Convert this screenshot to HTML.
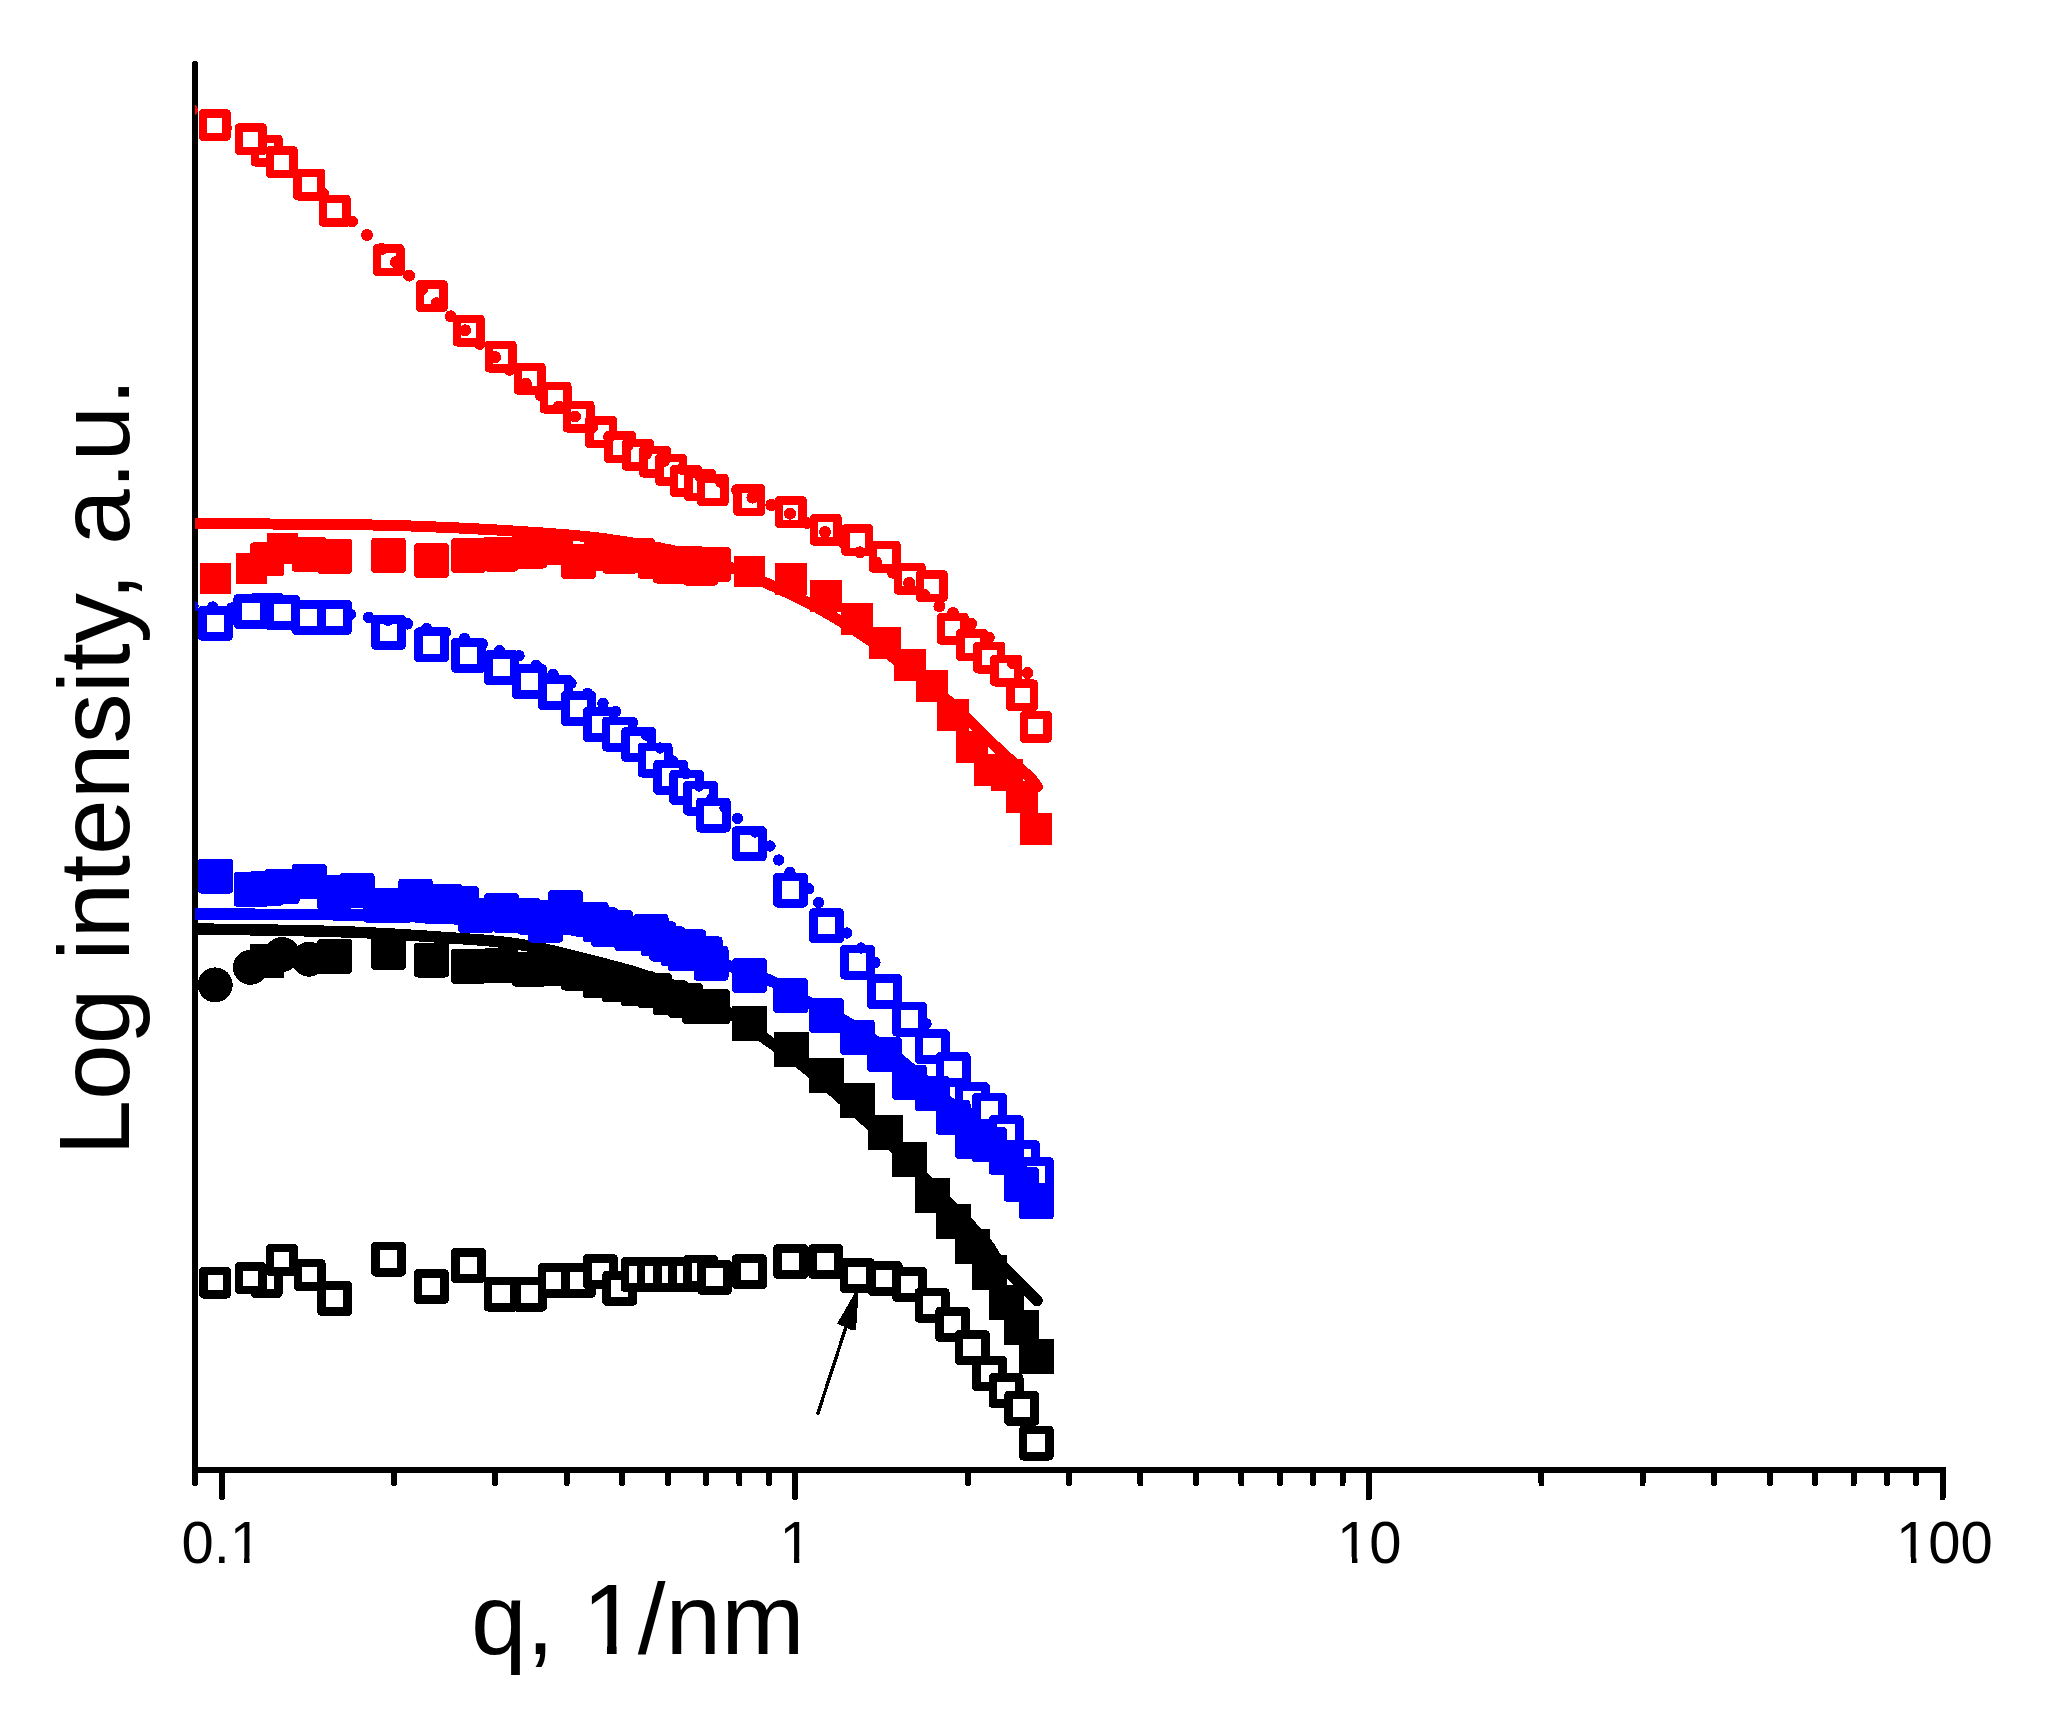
<!DOCTYPE html>
<html><head><meta charset="utf-8"><title>SAXS plot</title>
<style>html,body{margin:0;padding:0;background:#fff}body{width:2046px;height:1713px;overflow:hidden}</style></head>
<body>
<svg width="2046" height="1713" viewBox="0 0 2046 1713" style="display:block">
<rect width="2046" height="1713" fill="#fff"/>
<defs><clipPath id="cp"><rect x="195" y="50" width="1800" height="1420"/></clipPath></defs>
<g shape-rendering="crispEdges">
<line x1="195" y1="64" x2="195" y2="1483.2" stroke="#000000" stroke-width="6" stroke-linecap="round"/>
<line x1="192" y1="1470" x2="1945.5" y2="1470" stroke="#000000" stroke-width="6"/>
<line x1="222.00" y1="1470" x2="222.00" y2="1497.5" stroke="#000000" stroke-width="6" stroke-linecap="round"/>
<line x1="795.00" y1="1470" x2="795.00" y2="1497.5" stroke="#000000" stroke-width="6" stroke-linecap="round"/>
<line x1="1368.75" y1="1470" x2="1368.75" y2="1497.5" stroke="#000000" stroke-width="6" stroke-linecap="round"/>
<line x1="1942.50" y1="1470" x2="1942.50" y2="1497.5" stroke="#000000" stroke-width="6" stroke-linecap="round"/>
<line x1="393.97" y1="1470" x2="393.97" y2="1483.2" stroke="#000000" stroke-width="6" stroke-linecap="round"/>
<line x1="495.00" y1="1470" x2="495.00" y2="1483.2" stroke="#000000" stroke-width="6" stroke-linecap="round"/>
<line x1="566.68" y1="1470" x2="566.68" y2="1483.2" stroke="#000000" stroke-width="6" stroke-linecap="round"/>
<line x1="622.28" y1="1470" x2="622.28" y2="1483.2" stroke="#000000" stroke-width="6" stroke-linecap="round"/>
<line x1="667.71" y1="1470" x2="667.71" y2="1483.2" stroke="#000000" stroke-width="6" stroke-linecap="round"/>
<line x1="706.13" y1="1470" x2="706.13" y2="1483.2" stroke="#000000" stroke-width="6" stroke-linecap="round"/>
<line x1="739.40" y1="1470" x2="739.40" y2="1483.2" stroke="#000000" stroke-width="6" stroke-linecap="round"/>
<line x1="768.75" y1="1470" x2="768.75" y2="1483.2" stroke="#000000" stroke-width="6" stroke-linecap="round"/>
<line x1="967.72" y1="1470" x2="967.72" y2="1483.2" stroke="#000000" stroke-width="6" stroke-linecap="round"/>
<line x1="1068.75" y1="1470" x2="1068.75" y2="1483.2" stroke="#000000" stroke-width="6" stroke-linecap="round"/>
<line x1="1140.43" y1="1470" x2="1140.43" y2="1483.2" stroke="#000000" stroke-width="6" stroke-linecap="round"/>
<line x1="1196.03" y1="1470" x2="1196.03" y2="1483.2" stroke="#000000" stroke-width="6" stroke-linecap="round"/>
<line x1="1241.46" y1="1470" x2="1241.46" y2="1483.2" stroke="#000000" stroke-width="6" stroke-linecap="round"/>
<line x1="1279.88" y1="1470" x2="1279.88" y2="1483.2" stroke="#000000" stroke-width="6" stroke-linecap="round"/>
<line x1="1313.15" y1="1470" x2="1313.15" y2="1483.2" stroke="#000000" stroke-width="6" stroke-linecap="round"/>
<line x1="1342.50" y1="1470" x2="1342.50" y2="1483.2" stroke="#000000" stroke-width="6" stroke-linecap="round"/>
<line x1="1541.47" y1="1470" x2="1541.47" y2="1483.2" stroke="#000000" stroke-width="6" stroke-linecap="round"/>
<line x1="1642.50" y1="1470" x2="1642.50" y2="1483.2" stroke="#000000" stroke-width="6" stroke-linecap="round"/>
<line x1="1714.18" y1="1470" x2="1714.18" y2="1483.2" stroke="#000000" stroke-width="6" stroke-linecap="round"/>
<line x1="1769.78" y1="1470" x2="1769.78" y2="1483.2" stroke="#000000" stroke-width="6" stroke-linecap="round"/>
<line x1="1815.21" y1="1470" x2="1815.21" y2="1483.2" stroke="#000000" stroke-width="6" stroke-linecap="round"/>
<line x1="1853.63" y1="1470" x2="1853.63" y2="1483.2" stroke="#000000" stroke-width="6" stroke-linecap="round"/>
<line x1="1886.90" y1="1470" x2="1886.90" y2="1483.2" stroke="#000000" stroke-width="6" stroke-linecap="round"/>
<line x1="1916.25" y1="1470" x2="1916.25" y2="1483.2" stroke="#000000" stroke-width="6" stroke-linecap="round"/>
<g clip-path="url(#cp)">
<rect x="254.85" y="1270.15" width="23.50" height="23.50" fill="#fff" stroke="#000000" stroke-width="8.50" stroke-linejoin="round"/>
<rect x="375.38" y="1245.97" width="26.25" height="26.25" fill="#fff" stroke="#000000" stroke-width="8.75" stroke-linejoin="round"/>
<rect x="418.12" y="1273.38" width="26.25" height="26.25" fill="#fff" stroke="#000000" stroke-width="8.75" stroke-linejoin="round"/>
<rect x="455.27" y="1252.28" width="26.25" height="26.25" fill="#fff" stroke="#000000" stroke-width="8.75" stroke-linejoin="round"/>
<rect x="488.12" y="1280.97" width="26.25" height="26.25" fill="#fff" stroke="#000000" stroke-width="8.75" stroke-linejoin="round"/>
<rect x="516.38" y="1280.97" width="26.25" height="26.25" fill="#fff" stroke="#000000" stroke-width="8.75" stroke-linejoin="round"/>
<rect x="542.12" y="1267.28" width="26.25" height="26.25" fill="#fff" stroke="#000000" stroke-width="8.75" stroke-linejoin="round"/>
<rect x="565.38" y="1267.28" width="26.25" height="26.25" fill="#fff" stroke="#000000" stroke-width="8.75" stroke-linejoin="round"/>
<rect x="587.27" y="1258.38" width="26.25" height="26.25" fill="#fff" stroke="#000000" stroke-width="8.75" stroke-linejoin="round"/>
<rect x="606.62" y="1275.17" width="26.25" height="26.25" fill="#fff" stroke="#000000" stroke-width="8.75" stroke-linejoin="round"/>
<rect x="624.88" y="1261.62" width="26.25" height="26.25" fill="#fff" stroke="#000000" stroke-width="8.75" stroke-linejoin="round"/>
<rect x="641.12" y="1261.62" width="26.25" height="26.25" fill="#fff" stroke="#000000" stroke-width="8.75" stroke-linejoin="round"/>
<rect x="657.38" y="1261.62" width="26.25" height="26.25" fill="#fff" stroke="#000000" stroke-width="8.75" stroke-linejoin="round"/>
<rect x="672.38" y="1261.38" width="26.25" height="26.25" fill="#fff" stroke="#000000" stroke-width="8.75" stroke-linejoin="round"/>
<rect x="687.38" y="1259.12" width="26.25" height="26.25" fill="#fff" stroke="#000000" stroke-width="8.75" stroke-linejoin="round"/>
<rect x="701.27" y="1264.12" width="26.25" height="26.25" fill="#fff" stroke="#000000" stroke-width="8.75" stroke-linejoin="round"/>
<rect x="736.27" y="1258.62" width="26.25" height="26.25" fill="#fff" stroke="#000000" stroke-width="8.75" stroke-linejoin="round"/>
<rect x="777.48" y="1248.38" width="26.25" height="26.25" fill="#fff" stroke="#000000" stroke-width="8.75" stroke-linejoin="round"/>
<rect x="812.48" y="1248.38" width="26.25" height="26.25" fill="#fff" stroke="#000000" stroke-width="8.75" stroke-linejoin="round"/>
<rect x="843.98" y="1262.28" width="26.25" height="26.25" fill="#fff" stroke="#000000" stroke-width="8.75" stroke-linejoin="round"/>
<rect x="871.88" y="1265.38" width="26.25" height="26.25" fill="#fff" stroke="#000000" stroke-width="8.75" stroke-linejoin="round"/>
<rect x="896.48" y="1271.28" width="26.25" height="26.25" fill="#fff" stroke="#000000" stroke-width="8.75" stroke-linejoin="round"/>
<rect x="918.88" y="1292.12" width="26.25" height="26.25" fill="#fff" stroke="#000000" stroke-width="8.75" stroke-linejoin="round"/>
<rect x="939.62" y="1311.28" width="26.25" height="26.25" fill="#fff" stroke="#000000" stroke-width="8.75" stroke-linejoin="round"/>
<rect x="959.12" y="1334.38" width="26.25" height="26.25" fill="#fff" stroke="#000000" stroke-width="8.75" stroke-linejoin="round"/>
<rect x="976.38" y="1360.38" width="26.25" height="26.25" fill="#fff" stroke="#000000" stroke-width="8.75" stroke-linejoin="round"/>
<rect x="992.88" y="1377.62" width="26.25" height="26.25" fill="#fff" stroke="#000000" stroke-width="8.75" stroke-linejoin="round"/>
<rect x="1008.62" y="1395.12" width="26.25" height="26.25" fill="#fff" stroke="#000000" stroke-width="8.75" stroke-linejoin="round"/>
<rect x="1023.12" y="1429.88" width="26.25" height="26.25" fill="#fff" stroke="#000000" stroke-width="8.75" stroke-linejoin="round"/>
<rect x="203.35" y="1270.85" width="23.50" height="23.50" fill="#fff" stroke="#000000" stroke-width="8.50" stroke-linejoin="round"/>
<rect x="238.85" y="1266.35" width="23.50" height="23.50" fill="#fff" stroke="#000000" stroke-width="8.50" stroke-linejoin="round"/>
<rect x="270.15" y="1248.15" width="23.50" height="23.50" fill="#fff" stroke="#000000" stroke-width="8.50" stroke-linejoin="round"/>
<rect x="297.85" y="1263.15" width="23.50" height="23.50" fill="#fff" stroke="#000000" stroke-width="8.50" stroke-linejoin="round"/>
<rect x="321.62" y="1285.28" width="26.25" height="26.25" fill="#fff" stroke="#000000" stroke-width="8.75" stroke-linejoin="round"/>
<polyline points="195.0,929.0 202.0,929.1 210.9,929.2 221.4,929.4 233.3,929.6 246.1,929.7 259.6,929.9 273.4,930.2 287.3,930.4 300.9,930.7 313.9,931.0 326.1,931.3 337.0,931.6 347.0,932.0 356.7,932.3 366.0,932.7 375.0,933.2 383.7,933.6 392.2,934.1 400.5,934.6 408.6,935.1 416.6,935.6 424.4,936.1 432.2,936.6 440.0,937.2 447.6,937.7 455.0,938.2 462.2,938.7 469.1,939.2 476.0,939.7 482.8,940.2 489.4,940.8 496.1,941.5 502.7,942.2 509.4,943.0 516.1,943.9 523.0,945.0 530.0,946.2 537.3,947.6 544.7,949.2 552.2,950.8 559.7,952.6 567.1,954.4 574.3,956.2 581.4,958.0 588.1,959.7 594.5,961.4 600.5,962.9 606.0,964.3 610.9,965.6 615.4,966.7 619.4,967.8 623.0,968.8 626.4,969.7 629.6,970.6 632.6,971.5 635.5,972.4 638.5,973.3 641.5,974.3 644.6,975.4 648.0,976.5 651.5,977.7 655.0,978.9 658.6,980.1 662.1,981.4 665.7,982.7 669.2,984.0 672.7,985.3 676.2,986.7 679.7,988.1 683.2,989.5 686.6,991.0 690.0,992.5 693.4,994.0 696.7,995.6 700.1,997.2 703.4,998.9 706.8,1000.6 710.1,1002.3 713.3,1004.0 716.6,1005.8 719.7,1007.6 722.9,1009.4 726.0,1011.2 729.0,1013.0 731.9,1014.8 734.7,1016.6 737.3,1018.4 739.8,1020.1 742.3,1021.9 744.8,1023.8 747.3,1025.6 750.0,1027.6 752.7,1029.6 755.6,1031.8 758.7,1034.1 762.0,1036.5 765.5,1039.0 769.2,1041.6 773.1,1044.3 777.1,1047.1 781.1,1050.0 785.3,1052.9 789.6,1056.0 794.0,1059.1 798.4,1062.4 802.9,1065.8 807.4,1069.3 812.0,1073.0 816.7,1076.8 821.5,1080.9 826.4,1085.2 831.5,1089.6 836.6,1094.1 841.7,1098.7 846.9,1103.3 852.0,1107.9 857.0,1112.6 862.0,1117.1 866.8,1121.6 871.5,1126.0 876.0,1130.3 880.5,1134.6 884.9,1138.8 889.2,1143.1 893.5,1147.3 897.7,1151.5 901.9,1155.7 906.0,1159.8 910.0,1163.9 914.1,1168.0 918.0,1172.0 922.0,1176.0 926.0,1180.0 930.0,1184.1 934.0,1188.2 938.0,1192.2 942.0,1196.3 945.9,1200.3 949.7,1204.2 953.4,1207.9 956.8,1211.5 960.1,1214.9 963.2,1218.1 966.0,1221.0 968.5,1223.6 970.8,1225.9 972.8,1228.0 974.6,1229.9 976.3,1231.6 977.8,1233.2 979.2,1234.7 980.6,1236.2 981.9,1237.7 983.2,1239.2 984.6,1240.8 986.0,1242.5 987.4,1244.2 988.5,1245.9 989.6,1247.5 990.6,1249.1 991.5,1250.7 992.5,1252.3 993.5,1254.0 994.6,1255.7 995.9,1257.6 997.3,1259.5 999.0,1261.7 1001.0,1264.0 1003.4,1266.6 1006.2,1269.6 1009.4,1272.9 1012.8,1276.4 1016.3,1280.0 1019.9,1283.6 1023.5,1287.1 1026.9,1290.5 1030.0,1293.6 1032.8,1296.4 1035.2,1298.7 1037.0,1300.5" fill="none" stroke="#000000" stroke-width="11.5" stroke-linejoin="round" stroke-linecap="round"/>
<circle cx="215.20" cy="984.90" r="17.50" fill="#000000"/>
<circle cx="250.40" cy="967.30" r="17.50" fill="#000000"/>
<rect x="250.00" y="943.50" width="34" height="34" rx="0" fill="#000000"/>
<circle cx="282.10" cy="954.40" r="17.50" fill="#000000"/>
<circle cx="309.20" cy="959.20" r="17.50" fill="#000000"/>
<rect x="317.10" y="938.80" width="35" height="35" rx="4" fill="#000000"/>
<rect x="371.00" y="935.00" width="35" height="35" rx="4" fill="#000000"/>
<rect x="414.00" y="942.50" width="35" height="35" rx="4" fill="#000000"/>
<rect x="450.90" y="948.80" width="35" height="35" rx="4" fill="#000000"/>
<rect x="483.25" y="948.00" width="35" height="35" rx="4" fill="#000000"/>
<rect x="512.00" y="951.60" width="35" height="35" rx="4" fill="#000000"/>
<rect x="538.00" y="950.50" width="35" height="35" rx="4" fill="#000000"/>
<rect x="561.00" y="955.50" width="35" height="35" rx="4" fill="#000000"/>
<rect x="583.00" y="963.40" width="35" height="35" rx="4" fill="#000000"/>
<rect x="601.75" y="967.10" width="35" height="35" rx="4" fill="#000000"/>
<rect x="620.50" y="971.25" width="35" height="35" rx="4" fill="#000000"/>
<rect x="636.75" y="972.90" width="35" height="35" rx="4" fill="#000000"/>
<rect x="653.00" y="980.40" width="35" height="35" rx="4" fill="#000000"/>
<rect x="668.00" y="982.90" width="35" height="35" rx="4" fill="#000000"/>
<rect x="682.25" y="989.20" width="35" height="35" rx="4" fill="#000000"/>
<rect x="695.25" y="989.30" width="35" height="35" rx="4" fill="#000000"/>
<rect x="732.10" y="1005.80" width="35" height="35" rx="0" fill="#000000"/>
<rect x="774.00" y="1031.50" width="35" height="35" rx="0" fill="#000000"/>
<rect x="809.25" y="1057.75" width="35" height="35" rx="0" fill="#000000"/>
<rect x="840.00" y="1082.50" width="35" height="35" rx="0" fill="#000000"/>
<rect x="867.75" y="1114.75" width="35" height="35" rx="0" fill="#000000"/>
<rect x="892.00" y="1141.70" width="35" height="35" rx="0" fill="#000000"/>
<rect x="914.60" y="1177.60" width="35" height="35" rx="0" fill="#000000"/>
<rect x="935.70" y="1203.90" width="35" height="35" rx="0" fill="#000000"/>
<rect x="954.75" y="1229.00" width="35" height="35" rx="0" fill="#000000"/>
<rect x="972.00" y="1254.60" width="35" height="35" rx="0" fill="#000000"/>
<rect x="988.50" y="1284.75" width="35" height="35" rx="0" fill="#000000"/>
<rect x="1004.25" y="1309.60" width="35" height="35" rx="0" fill="#000000"/>
<rect x="1018.75" y="1338.50" width="35" height="35" rx="0" fill="#000000"/>
<line x1="818" y1="1413" x2="847" y2="1324" stroke="#000000" stroke-width="3.4" stroke-linecap="round"/>
<polygon points="855,1292.5 858.3,1292.5 857.6,1307 856,1330 850,1329.5 837.2,1323.5" fill="#000000"/>
<rect x="253.88" y="597.27" width="26.25" height="26.25" fill="#fff" stroke="#0000ff" stroke-width="8.75" stroke-linejoin="round"/>
<rect x="375.38" y="619.27" width="26.25" height="26.25" fill="#fff" stroke="#0000ff" stroke-width="8.75" stroke-linejoin="round"/>
<rect x="418.38" y="631.77" width="26.25" height="26.25" fill="#fff" stroke="#0000ff" stroke-width="8.75" stroke-linejoin="round"/>
<rect x="455.57" y="642.17" width="26.25" height="26.25" fill="#fff" stroke="#0000ff" stroke-width="8.75" stroke-linejoin="round"/>
<rect x="488.38" y="654.62" width="26.25" height="26.25" fill="#fff" stroke="#0000ff" stroke-width="8.75" stroke-linejoin="round"/>
<rect x="516.38" y="668.62" width="26.25" height="26.25" fill="#fff" stroke="#0000ff" stroke-width="8.75" stroke-linejoin="round"/>
<rect x="542.38" y="679.38" width="26.25" height="26.25" fill="#fff" stroke="#0000ff" stroke-width="8.75" stroke-linejoin="round"/>
<rect x="565.38" y="695.38" width="26.25" height="26.25" fill="#fff" stroke="#0000ff" stroke-width="8.75" stroke-linejoin="round"/>
<rect x="587.38" y="711.38" width="26.25" height="26.25" fill="#fff" stroke="#0000ff" stroke-width="8.75" stroke-linejoin="round"/>
<rect x="606.12" y="720.88" width="26.25" height="26.25" fill="#fff" stroke="#0000ff" stroke-width="8.75" stroke-linejoin="round"/>
<rect x="625.62" y="731.38" width="26.25" height="26.25" fill="#fff" stroke="#0000ff" stroke-width="8.75" stroke-linejoin="round"/>
<rect x="641.88" y="746.88" width="26.25" height="26.25" fill="#fff" stroke="#0000ff" stroke-width="8.75" stroke-linejoin="round"/>
<rect x="657.62" y="764.12" width="26.25" height="26.25" fill="#fff" stroke="#0000ff" stroke-width="8.75" stroke-linejoin="round"/>
<rect x="673.62" y="774.12" width="26.25" height="26.25" fill="#fff" stroke="#0000ff" stroke-width="8.75" stroke-linejoin="round"/>
<rect x="687.38" y="784.88" width="26.25" height="26.25" fill="#fff" stroke="#0000ff" stroke-width="8.75" stroke-linejoin="round"/>
<rect x="700.12" y="801.88" width="26.25" height="26.25" fill="#fff" stroke="#0000ff" stroke-width="8.75" stroke-linejoin="round"/>
<rect x="736.12" y="830.62" width="26.25" height="26.25" fill="#fff" stroke="#0000ff" stroke-width="8.75" stroke-linejoin="round"/>
<rect x="777.48" y="876.88" width="26.25" height="26.25" fill="#fff" stroke="#0000ff" stroke-width="8.75" stroke-linejoin="round"/>
<rect x="813.38" y="912.58" width="26.25" height="26.25" fill="#fff" stroke="#0000ff" stroke-width="8.75" stroke-linejoin="round"/>
<rect x="844.27" y="948.98" width="26.25" height="26.25" fill="#fff" stroke="#0000ff" stroke-width="8.75" stroke-linejoin="round"/>
<rect x="871.48" y="978.48" width="26.25" height="26.25" fill="#fff" stroke="#0000ff" stroke-width="8.75" stroke-linejoin="round"/>
<rect x="896.27" y="1005.98" width="26.25" height="26.25" fill="#fff" stroke="#0000ff" stroke-width="8.75" stroke-linejoin="round"/>
<rect x="919.12" y="1033.62" width="26.25" height="26.25" fill="#fff" stroke="#0000ff" stroke-width="8.75" stroke-linejoin="round"/>
<rect x="939.88" y="1056.38" width="26.25" height="26.25" fill="#fff" stroke="#0000ff" stroke-width="8.75" stroke-linejoin="round"/>
<rect x="959.12" y="1086.62" width="26.25" height="26.25" fill="#fff" stroke="#0000ff" stroke-width="8.75" stroke-linejoin="round"/>
<rect x="976.27" y="1097.12" width="26.25" height="26.25" fill="#fff" stroke="#0000ff" stroke-width="8.75" stroke-linejoin="round"/>
<rect x="993.12" y="1119.38" width="26.25" height="26.25" fill="#fff" stroke="#0000ff" stroke-width="8.75" stroke-linejoin="round"/>
<rect x="1009.12" y="1144.38" width="26.25" height="26.25" fill="#fff" stroke="#0000ff" stroke-width="8.75" stroke-linejoin="round"/>
<rect x="1023.12" y="1161.38" width="26.25" height="26.25" fill="#fff" stroke="#0000ff" stroke-width="8.75" stroke-linejoin="round"/>
<circle cx="193" cy="606.3" r="5.7" fill="#0000ff"/>
<circle cx="212.7" cy="607" r="5.7" fill="#0000ff"/>
<circle cx="231.8" cy="608" r="5.7" fill="#0000ff"/>
<circle cx="350.5" cy="614.4" r="5.7" fill="#0000ff"/>
<circle cx="368.6" cy="617.3" r="5.7" fill="#0000ff"/>
<circle cx="388" cy="620.3" r="5.7" fill="#0000ff"/>
<circle cx="407.5" cy="623.8" r="5.7" fill="#0000ff"/>
<circle cx="426.7" cy="628.6" r="5.7" fill="#0000ff"/>
<circle cx="445.4" cy="632.3" r="5.7" fill="#0000ff"/>
<circle cx="464.4" cy="638.4" r="5.7" fill="#0000ff"/>
<circle cx="482.3" cy="644" r="5.7" fill="#0000ff"/>
<circle cx="499.6" cy="650.7" r="5.7" fill="#0000ff"/>
<circle cx="519" cy="655.7" r="5.7" fill="#0000ff"/>
<circle cx="536.25" cy="665.2" r="5.7" fill="#0000ff"/>
<circle cx="553" cy="674.4" r="5.7" fill="#0000ff"/>
<circle cx="571" cy="683.4" r="5.7" fill="#0000ff"/>
<circle cx="587.5" cy="693.4" r="5.7" fill="#0000ff"/>
<circle cx="603" cy="703.4" r="5.7" fill="#0000ff"/>
<circle cx="615.6" cy="711.4" r="5.7" fill="#0000ff"/>
<circle cx="632.5" cy="722.5" r="5.7" fill="#0000ff"/>
<circle cx="646" cy="735" r="5.7" fill="#0000ff"/>
<circle cx="660" cy="748" r="5.7" fill="#0000ff"/>
<circle cx="673" cy="761" r="5.7" fill="#0000ff"/>
<circle cx="686" cy="773.5" r="5.7" fill="#0000ff"/>
<circle cx="699" cy="786" r="5.7" fill="#0000ff"/>
<circle cx="712" cy="798" r="5.7" fill="#0000ff"/>
<circle cx="725" cy="808" r="5.7" fill="#0000ff"/>
<circle cx="737.5" cy="818.25" r="5.7" fill="#0000ff"/>
<circle cx="755" cy="832" r="5.7" fill="#0000ff"/>
<circle cx="770" cy="846" r="5.7" fill="#0000ff"/>
<circle cx="778.75" cy="860" r="5.7" fill="#0000ff"/>
<circle cx="790" cy="872.5" r="5.7" fill="#0000ff"/>
<circle cx="808.75" cy="888.75" r="5.7" fill="#0000ff"/>
<circle cx="818.75" cy="902.5" r="5.7" fill="#0000ff"/>
<circle cx="846.8" cy="933" r="5.7" fill="#0000ff"/>
<circle cx="861" cy="948" r="5.7" fill="#0000ff"/>
<circle cx="875" cy="962.5" r="5.7" fill="#0000ff"/>
<circle cx="926" cy="1023.75" r="5.7" fill="#0000ff"/>
<rect x="202.28" y="610.17" width="26.25" height="26.25" fill="#fff" stroke="#0000ff" stroke-width="8.75" stroke-linejoin="round"/>
<rect x="237.78" y="598.27" width="26.25" height="26.25" fill="#fff" stroke="#0000ff" stroke-width="8.75" stroke-linejoin="round"/>
<rect x="269.38" y="599.38" width="26.25" height="26.25" fill="#fff" stroke="#0000ff" stroke-width="8.75" stroke-linejoin="round"/>
<rect x="295.77" y="604.17" width="26.25" height="26.25" fill="#fff" stroke="#0000ff" stroke-width="8.75" stroke-linejoin="round"/>
<rect x="321.38" y="604.17" width="26.25" height="26.25" fill="#fff" stroke="#0000ff" stroke-width="8.75" stroke-linejoin="round"/>
<polyline points="195.0,914.0 202.0,914.0 211.1,914.1 221.9,914.1 234.0,914.2 247.1,914.2 260.8,914.3 274.8,914.3 288.8,914.4 302.3,914.5 315.1,914.6 326.8,914.7 337.0,914.8 346.0,914.9 354.3,915.1 362.0,915.2 369.1,915.3 375.9,915.5 382.4,915.6 388.6,915.8 394.7,916.0 400.8,916.2 407.0,916.5 413.4,916.7 420.0,917.0 426.8,917.3 433.5,917.6 440.2,918.0 446.9,918.3 453.5,918.7 460.2,919.1 466.8,919.5 473.4,919.9 480.1,920.4 486.7,920.9 493.3,921.4 500.0,922.0 506.7,922.6 513.4,923.2 520.2,923.9 527.0,924.6 533.8,925.3 540.6,926.0 547.4,926.8 554.1,927.6 560.7,928.4 567.2,929.2 573.7,930.1 580.0,931.0 586.2,931.9 592.4,932.9 598.4,933.9 604.4,934.9 610.4,936.0 616.2,937.1 622.0,938.2 627.8,939.3 633.4,940.4 639.0,941.6 644.5,942.8 650.0,944.0 655.4,945.2 660.6,946.4 665.7,947.7 670.8,949.0 675.8,950.3 680.7,951.6 685.6,952.9 690.4,954.3 695.3,955.6 700.2,957.1 705.1,958.5 710.0,960.0 715.0,961.5 720.1,963.1 725.2,964.6 730.4,966.3 735.6,967.9 740.7,969.6 745.7,971.3 750.7,973.0 755.5,974.7 760.2,976.4 764.7,978.2 769.0,980.0 773.1,981.8 776.9,983.7 780.5,985.6 784.0,987.5 787.4,989.5 790.7,991.4 793.9,993.4 797.1,995.4 800.2,997.3 803.4,999.2 806.7,1001.1 810.0,1003.0 813.4,1004.8 816.7,1006.5 820.1,1008.2 823.4,1009.9 826.7,1011.5 830.1,1013.2 833.4,1014.9 836.7,1016.6 840.0,1018.3 843.3,1020.1 846.7,1022.0 850.0,1024.0 853.3,1026.1 856.7,1028.2 860.0,1030.4 863.3,1032.6 866.7,1034.9 870.0,1037.2 873.3,1039.6 876.7,1042.0 880.0,1044.5 883.3,1047.0 886.7,1049.5 890.0,1052.0 893.3,1054.6 896.7,1057.2 900.0,1059.8 903.3,1062.5 906.7,1065.2 910.0,1067.9 913.3,1070.7 916.7,1073.5 920.0,1076.4 923.3,1079.2 926.7,1082.1 930.0,1085.0 933.3,1087.9 936.7,1090.9 940.1,1094.0 943.5,1097.1 946.9,1100.2 950.3,1103.3 953.7,1106.5 957.0,1109.6 960.4,1112.7 963.6,1115.8 966.8,1118.9 970.0,1122.0 973.1,1125.0 976.2,1128.0 979.2,1131.0 982.1,1134.0 985.1,1137.0 988.0,1140.0 990.9,1143.0 993.7,1146.0 996.6,1149.0 999.4,1152.0 1002.2,1155.0 1005.0,1158.0 1007.9,1161.2 1010.9,1164.5 1014.0,1168.0 1017.1,1171.6 1020.2,1175.2 1023.2,1178.8 1026.1,1182.2 1028.8,1185.4 1031.3,1188.3 1033.6,1191.0 1035.5,1193.2 1037.0,1195.0" fill="none" stroke="#0000ff" stroke-width="11.5" stroke-linejoin="round" stroke-linecap="round"/>
<rect x="198.00" y="858.60" width="35" height="35" rx="4" fill="#0000ff"/>
<rect x="233.60" y="871.90" width="35" height="35" rx="4" fill="#0000ff"/>
<rect x="249.50" y="870.50" width="35" height="35" rx="4" fill="#0000ff"/>
<rect x="264.60" y="869.00" width="35" height="35" rx="4" fill="#0000ff"/>
<rect x="291.70" y="863.70" width="35" height="35" rx="4" fill="#0000ff"/>
<rect x="317.25" y="874.80" width="35" height="35" rx="4" fill="#0000ff"/>
<rect x="339.70" y="872.90" width="35" height="35" rx="4" fill="#0000ff"/>
<rect x="363.00" y="887.60" width="35" height="35" rx="4" fill="#0000ff"/>
<rect x="377.90" y="887.60" width="35" height="35" rx="4" fill="#0000ff"/>
<rect x="398.00" y="878.80" width="35" height="35" rx="4" fill="#0000ff"/>
<rect x="412.50" y="887.50" width="35" height="35" rx="4" fill="#0000ff"/>
<rect x="423.00" y="889.20" width="35" height="35" rx="4" fill="#0000ff"/>
<rect x="427.20" y="883.60" width="35" height="35" rx="4" fill="#0000ff"/>
<rect x="444.00" y="886.20" width="35" height="35" rx="4" fill="#0000ff"/>
<rect x="458.20" y="898.10" width="35" height="35" rx="4" fill="#0000ff"/>
<rect x="484.00" y="893.20" width="35" height="35" rx="4" fill="#0000ff"/>
<rect x="493.10" y="898.10" width="35" height="35" rx="4" fill="#0000ff"/>
<rect x="505.60" y="898.10" width="35" height="35" rx="4" fill="#0000ff"/>
<rect x="517.50" y="899.90" width="35" height="35" rx="4" fill="#0000ff"/>
<rect x="528.00" y="907.60" width="35" height="35" rx="4" fill="#0000ff"/>
<rect x="548.00" y="890.20" width="35" height="35" rx="4" fill="#0000ff"/>
<rect x="573.70" y="902.00" width="35" height="35" rx="4" fill="#0000ff"/>
<rect x="582.90" y="907.30" width="35" height="35" rx="4" fill="#0000ff"/>
<rect x="591.20" y="912.30" width="35" height="35" rx="4" fill="#0000ff"/>
<rect x="597.80" y="909.80" width="35" height="35" rx="4" fill="#0000ff"/>
<rect x="614.40" y="916.40" width="35" height="35" rx="4" fill="#0000ff"/>
<rect x="633.50" y="913.60" width="35" height="35" rx="4" fill="#0000ff"/>
<rect x="641.00" y="921.40" width="35" height="35" rx="4" fill="#0000ff"/>
<rect x="649.30" y="926.10" width="35" height="35" rx="4" fill="#0000ff"/>
<rect x="651.00" y="927.20" width="35" height="35" rx="4" fill="#0000ff"/>
<rect x="661.00" y="931.40" width="35" height="35" rx="4" fill="#0000ff"/>
<rect x="667.60" y="936.40" width="35" height="35" rx="4" fill="#0000ff"/>
<rect x="670.90" y="929.40" width="35" height="35" rx="4" fill="#0000ff"/>
<rect x="687.50" y="936.40" width="35" height="35" rx="4" fill="#0000ff"/>
<rect x="693.50" y="945.90" width="35" height="35" rx="4" fill="#0000ff"/>
<rect x="732.00" y="958.20" width="35" height="35" rx="4" fill="#0000ff"/>
<rect x="773.30" y="978.20" width="35" height="35" rx="4" fill="#0000ff"/>
<rect x="809.10" y="997.90" width="35" height="35" rx="4" fill="#0000ff"/>
<rect x="840.00" y="1019.75" width="35" height="35" rx="4" fill="#0000ff"/>
<rect x="867.25" y="1037.25" width="35" height="35" rx="4" fill="#0000ff"/>
<rect x="892.00" y="1064.75" width="35" height="35" rx="4" fill="#0000ff"/>
<rect x="914.75" y="1076.25" width="35" height="35" rx="4" fill="#0000ff"/>
<rect x="935.50" y="1099.75" width="35" height="35" rx="4" fill="#0000ff"/>
<rect x="954.75" y="1123.75" width="35" height="35" rx="4" fill="#0000ff"/>
<rect x="971.90" y="1127.25" width="35" height="35" rx="4" fill="#0000ff"/>
<rect x="988.75" y="1140.00" width="35" height="35" rx="4" fill="#0000ff"/>
<rect x="1003.75" y="1167.00" width="35" height="35" rx="4" fill="#0000ff"/>
<rect x="1018.75" y="1184.40" width="35" height="35" rx="4" fill="#0000ff"/>
<rect x="255.00" y="138.75" width="23.50" height="23.50" fill="#fff" stroke="#ff0000" stroke-width="8.50" stroke-linejoin="round"/>
<rect x="376.75" y="248.25" width="23.50" height="23.50" fill="#fff" stroke="#ff0000" stroke-width="8.50" stroke-linejoin="round"/>
<rect x="420.00" y="284.25" width="23.50" height="23.50" fill="#fff" stroke="#ff0000" stroke-width="8.50" stroke-linejoin="round"/>
<rect x="457.00" y="318.75" width="23.50" height="23.50" fill="#fff" stroke="#ff0000" stroke-width="8.50" stroke-linejoin="round"/>
<rect x="489.00" y="344.75" width="23.50" height="23.50" fill="#fff" stroke="#ff0000" stroke-width="8.50" stroke-linejoin="round"/>
<rect x="518.00" y="367.00" width="23.50" height="23.50" fill="#fff" stroke="#ff0000" stroke-width="8.50" stroke-linejoin="round"/>
<rect x="543.75" y="385.75" width="23.50" height="23.50" fill="#fff" stroke="#ff0000" stroke-width="8.50" stroke-linejoin="round"/>
<rect x="566.75" y="404.75" width="23.50" height="23.50" fill="#fff" stroke="#ff0000" stroke-width="8.50" stroke-linejoin="round"/>
<rect x="589.25" y="420.25" width="23.50" height="23.50" fill="#fff" stroke="#ff0000" stroke-width="8.50" stroke-linejoin="round"/>
<rect x="608.25" y="435.25" width="23.50" height="23.50" fill="#fff" stroke="#ff0000" stroke-width="8.50" stroke-linejoin="round"/>
<rect x="626.25" y="443.10" width="23.50" height="23.50" fill="#fff" stroke="#ff0000" stroke-width="8.50" stroke-linejoin="round"/>
<rect x="643.25" y="449.85" width="23.50" height="23.50" fill="#fff" stroke="#ff0000" stroke-width="8.50" stroke-linejoin="round"/>
<rect x="659.35" y="458.15" width="23.50" height="23.50" fill="#fff" stroke="#ff0000" stroke-width="8.50" stroke-linejoin="round"/>
<rect x="674.15" y="469.15" width="23.50" height="23.50" fill="#fff" stroke="#ff0000" stroke-width="8.50" stroke-linejoin="round"/>
<rect x="688.35" y="473.30" width="23.50" height="23.50" fill="#fff" stroke="#ff0000" stroke-width="8.50" stroke-linejoin="round"/>
<rect x="701.15" y="478.25" width="23.50" height="23.50" fill="#fff" stroke="#ff0000" stroke-width="8.50" stroke-linejoin="round"/>
<rect x="737.55" y="488.25" width="23.50" height="23.50" fill="#fff" stroke="#ff0000" stroke-width="8.50" stroke-linejoin="round"/>
<rect x="779.00" y="500.25" width="23.50" height="23.50" fill="#fff" stroke="#ff0000" stroke-width="8.50" stroke-linejoin="round"/>
<rect x="814.00" y="518.00" width="23.50" height="23.50" fill="#fff" stroke="#ff0000" stroke-width="8.50" stroke-linejoin="round"/>
<rect x="845.50" y="528.25" width="23.50" height="23.50" fill="#fff" stroke="#ff0000" stroke-width="8.50" stroke-linejoin="round"/>
<rect x="873.00" y="545.00" width="23.50" height="23.50" fill="#fff" stroke="#ff0000" stroke-width="8.50" stroke-linejoin="round"/>
<rect x="898.00" y="567.00" width="23.50" height="23.50" fill="#fff" stroke="#ff0000" stroke-width="8.50" stroke-linejoin="round"/>
<rect x="920.00" y="574.25" width="23.50" height="23.50" fill="#fff" stroke="#ff0000" stroke-width="8.50" stroke-linejoin="round"/>
<rect x="941.00" y="617.00" width="23.50" height="23.50" fill="#fff" stroke="#ff0000" stroke-width="8.50" stroke-linejoin="round"/>
<rect x="960.25" y="633.25" width="23.50" height="23.50" fill="#fff" stroke="#ff0000" stroke-width="8.50" stroke-linejoin="round"/>
<rect x="977.50" y="645.75" width="23.50" height="23.50" fill="#fff" stroke="#ff0000" stroke-width="8.50" stroke-linejoin="round"/>
<rect x="994.50" y="658.75" width="23.50" height="23.50" fill="#fff" stroke="#ff0000" stroke-width="8.50" stroke-linejoin="round"/>
<rect x="1010.25" y="683.65" width="23.50" height="23.50" fill="#fff" stroke="#ff0000" stroke-width="8.50" stroke-linejoin="round"/>
<rect x="1024.15" y="715.15" width="23.50" height="23.50" fill="#fff" stroke="#ff0000" stroke-width="8.50" stroke-linejoin="round"/>
<circle cx="192" cy="110" r="6" fill="#ff0000"/>
<circle cx="226" cy="128" r="6" fill="#ff0000"/>
<circle cx="323" cy="193.5" r="6" fill="#ff0000"/>
<circle cx="352" cy="221.5" r="6" fill="#ff0000"/>
<circle cx="367" cy="235" r="6" fill="#ff0000"/>
<circle cx="381.7" cy="249" r="6" fill="#ff0000"/>
<circle cx="396" cy="262.1" r="6" fill="#ff0000"/>
<circle cx="409.1" cy="275.6" r="6" fill="#ff0000"/>
<circle cx="422.2" cy="289.2" r="6" fill="#ff0000"/>
<circle cx="436.8" cy="303.2" r="6" fill="#ff0000"/>
<circle cx="450.75" cy="316.3" r="6" fill="#ff0000"/>
<circle cx="465.1" cy="330.3" r="6" fill="#ff0000"/>
<circle cx="479.6" cy="343.9" r="6" fill="#ff0000"/>
<circle cx="495.1" cy="357.2" r="6" fill="#ff0000"/>
<circle cx="509.9" cy="369.8" r="6" fill="#ff0000"/>
<circle cx="525.9" cy="383.7" r="6" fill="#ff0000"/>
<circle cx="540.7" cy="395.3" r="6" fill="#ff0000"/>
<circle cx="558.8" cy="406.6" r="6" fill="#ff0000"/>
<circle cx="575.1" cy="416.5" r="6" fill="#ff0000"/>
<circle cx="592.5" cy="427.1" r="6" fill="#ff0000"/>
<circle cx="609" cy="437" r="6" fill="#ff0000"/>
<circle cx="627.5" cy="446" r="6" fill="#ff0000"/>
<circle cx="646" cy="454" r="6" fill="#ff0000"/>
<circle cx="664" cy="461" r="6" fill="#ff0000"/>
<circle cx="682" cy="469" r="6" fill="#ff0000"/>
<circle cx="700" cy="476" r="6" fill="#ff0000"/>
<circle cx="721" cy="482" r="6" fill="#ff0000"/>
<circle cx="737" cy="490" r="6" fill="#ff0000"/>
<circle cx="752.5" cy="497.5" r="6" fill="#ff0000"/>
<circle cx="771.25" cy="505" r="6" fill="#ff0000"/>
<circle cx="790" cy="513.75" r="6" fill="#ff0000"/>
<circle cx="807" cy="523" r="6" fill="#ff0000"/>
<circle cx="825" cy="532" r="6" fill="#ff0000"/>
<circle cx="842.5" cy="542" r="6" fill="#ff0000"/>
<circle cx="860" cy="552.25" r="6" fill="#ff0000"/>
<circle cx="876.4" cy="562.5" r="6" fill="#ff0000"/>
<circle cx="892.8" cy="572.75" r="6" fill="#ff0000"/>
<circle cx="909.2" cy="583" r="6" fill="#ff0000"/>
<circle cx="924" cy="594.5" r="6" fill="#ff0000"/>
<circle cx="939.4" cy="606.25" r="6" fill="#ff0000"/>
<circle cx="953.1" cy="613.1" r="6" fill="#ff0000"/>
<circle cx="971.25" cy="623.75" r="6" fill="#ff0000"/>
<circle cx="988.75" cy="637.5" r="6" fill="#ff0000"/>
<circle cx="1013" cy="663.5" r="6" fill="#ff0000"/>
<circle cx="1027.5" cy="673" r="6" fill="#ff0000"/>
<rect x="203.00" y="113.25" width="23.50" height="23.50" fill="#fff" stroke="#ff0000" stroke-width="8.50" stroke-linejoin="round"/>
<rect x="239.00" y="127.50" width="23.50" height="23.50" fill="#fff" stroke="#ff0000" stroke-width="8.50" stroke-linejoin="round"/>
<rect x="270.00" y="150.25" width="23.50" height="23.50" fill="#fff" stroke="#ff0000" stroke-width="8.50" stroke-linejoin="round"/>
<rect x="297.50" y="172.75" width="23.50" height="23.50" fill="#fff" stroke="#ff0000" stroke-width="8.50" stroke-linejoin="round"/>
<rect x="323.00" y="199.00" width="23.50" height="23.50" fill="#fff" stroke="#ff0000" stroke-width="8.50" stroke-linejoin="round"/>
<polyline points="195.0,523.5 203.0,523.6 213.4,523.6 225.7,523.7 239.6,523.8 254.6,523.9 270.3,524.0 286.3,524.1 302.0,524.2 317.2,524.4 331.4,524.5 344.1,524.6 355.0,524.8 364.2,524.9 372.4,525.0 379.7,525.2 386.3,525.3 392.3,525.4 397.8,525.6 403.1,525.8 408.1,525.9 413.2,526.1 418.5,526.3 424.0,526.5 430.0,526.8 436.2,527.0 442.5,527.3 448.8,527.5 455.0,527.8 461.2,528.1 467.5,528.4 473.8,528.7 480.0,529.1 486.2,529.4 492.5,529.8 498.8,530.1 505.0,530.5 511.4,530.9 517.9,531.3 524.5,531.8 531.2,532.2 537.9,532.7 544.5,533.1 551.0,533.6 557.4,534.1 563.5,534.6 569.4,535.1 574.9,535.5 580.0,536.0 584.7,536.5 589.1,536.9 593.1,537.4 596.9,537.8 600.5,538.2 603.9,538.7 607.1,539.1 610.3,539.6 613.4,540.1 616.6,540.5 619.7,541.0 623.0,541.5 626.3,542.0 629.5,542.5 632.6,543.0 635.7,543.5 638.7,544.0 641.7,544.5 644.7,545.1 647.7,545.6 650.7,546.2 653.7,546.8 656.8,547.4 660.0,548.0 663.2,548.7 666.6,549.3 669.9,550.0 673.3,550.7 676.7,551.4 680.1,552.2 683.5,552.9 686.9,553.7 690.3,554.5 693.6,555.3 696.8,556.1 700.0,557.0 703.1,557.9 706.1,558.8 709.1,559.7 712.0,560.6 714.9,561.6 717.8,562.6 720.7,563.6 723.5,564.6 726.4,565.7 729.2,566.7 732.1,567.9 735.0,569.0 737.9,570.2 740.8,571.4 743.6,572.6 746.5,573.9 749.3,575.1 752.2,576.4 755.1,577.8 758.0,579.1 760.9,580.5 763.9,581.9 766.9,583.3 770.0,584.8 773.2,586.2 776.4,587.7 779.8,589.3 783.2,590.8 786.6,592.4 790.1,594.0 793.5,595.7 796.9,597.3 800.3,598.9 803.6,600.6 806.9,602.2 810.0,603.8 813.1,605.4 816.1,607.1 819.1,608.7 822.0,610.3 824.9,612.0 827.8,613.7 830.6,615.3 833.4,616.9 836.1,618.6 838.8,620.2 841.4,621.8 844.0,623.4 846.6,625.0 849.1,626.5 851.5,628.1 853.9,629.7 856.3,631.2 858.7,632.7 860.9,634.2 863.2,635.7 865.4,637.2 867.6,638.7 869.7,640.2 871.8,641.6 873.7,643.0 875.7,644.4 877.5,645.7 879.2,647.0 881.0,648.2 882.7,649.5 884.3,650.8 886.0,652.1 887.8,653.4 889.5,654.7 891.4,656.1 893.3,657.6 895.3,659.1 897.3,660.6 899.4,662.2 901.5,663.8 903.6,665.4 905.7,667.0 907.9,668.7 910.1,670.3 912.3,672.0 914.5,673.7 916.8,675.5 919.0,677.2 921.3,679.1 923.7,680.9 926.1,682.9 928.6,684.9 931.1,686.9 933.6,688.9 936.1,690.9 938.5,692.8 940.8,694.8 943.1,696.6 945.2,698.4 947.2,700.1 949.1,701.6 950.6,703.0 952.1,704.2 953.4,705.4 954.6,706.5 955.8,707.6 957.1,708.7 958.4,710.0 959.8,711.3 961.4,712.8 963.2,714.5 965.2,716.5 967.6,718.7 970.1,721.2 972.9,724.0 975.8,726.8 978.8,729.8 981.9,732.9 985.1,736.0 988.2,739.1 991.3,742.2 994.3,745.1 997.3,747.9 1000.0,750.5 1002.7,753.0 1005.4,755.5 1008.1,757.9 1010.9,760.3 1013.5,762.6 1016.2,764.9 1018.7,767.1 1021.1,769.2 1023.3,771.2 1025.4,773.1 1027.3,774.8 1029.0,776.4 1030.4,777.9 1031.7,779.2 1032.7,780.4 1033.6,781.5 1034.3,782.4 1035.0,783.3 1035.5,784.1 1035.9,784.8 1036.3,785.5 1036.6,786.0 1037.0,786.5 1037.3,787.0" fill="none" stroke="#ff0000" stroke-width="11" stroke-linejoin="round" stroke-linecap="round"/>
<rect x="200.00" y="562.90" width="31" height="31" rx="0" fill="#ff0000"/>
<rect x="235.50" y="553.00" width="31" height="31" rx="0" fill="#ff0000"/>
<rect x="250.00" y="542.40" width="34" height="34" rx="4" fill="#ff0000"/>
<rect x="266.60" y="533.00" width="31" height="31" rx="0" fill="#ff0000"/>
<rect x="291.75" y="537.00" width="35" height="35" rx="4" fill="#ff0000"/>
<rect x="317.10" y="538.80" width="35" height="35" rx="4" fill="#ff0000"/>
<rect x="371.00" y="537.80" width="35" height="35" rx="4" fill="#ff0000"/>
<rect x="414.00" y="542.90" width="35" height="35" rx="4" fill="#ff0000"/>
<rect x="451.10" y="537.80" width="35" height="35" rx="4" fill="#ff0000"/>
<rect x="483.25" y="536.60" width="35" height="35" rx="4" fill="#ff0000"/>
<rect x="512.00" y="533.50" width="35" height="35" rx="4" fill="#ff0000"/>
<rect x="538.00" y="530.00" width="35" height="35" rx="4" fill="#ff0000"/>
<rect x="560.80" y="543.75" width="35" height="35" rx="4" fill="#ff0000"/>
<rect x="583.50" y="535.90" width="35" height="35" rx="4" fill="#ff0000"/>
<rect x="602.50" y="538.75" width="35" height="35" rx="4" fill="#ff0000"/>
<rect x="620.00" y="538.10" width="35" height="35" rx="4" fill="#ff0000"/>
<rect x="637.50" y="543.75" width="35" height="35" rx="4" fill="#ff0000"/>
<rect x="653.00" y="548.50" width="35" height="35" rx="4" fill="#ff0000"/>
<rect x="668.50" y="545.80" width="35" height="35" rx="4" fill="#ff0000"/>
<rect x="683.00" y="550.60" width="35" height="35" rx="4" fill="#ff0000"/>
<rect x="696.00" y="546.90" width="35" height="35" rx="4" fill="#ff0000"/>
<rect x="734.00" y="555.80" width="31" height="31" rx="0" fill="#ff0000"/>
<rect x="774.90" y="562.75" width="32" height="32" rx="0" fill="#ff0000"/>
<rect x="810.40" y="580.40" width="32" height="32" rx="0" fill="#ff0000"/>
<rect x="841.40" y="602.75" width="32" height="32" rx="0" fill="#ff0000"/>
<rect x="868.90" y="626.90" width="32" height="32" rx="0" fill="#ff0000"/>
<rect x="894.00" y="648.80" width="32" height="32" rx="0" fill="#ff0000"/>
<rect x="916.40" y="669.80" width="32" height="32" rx="0" fill="#ff0000"/>
<rect x="937.00" y="698.90" width="32" height="32" rx="0" fill="#ff0000"/>
<rect x="956.00" y="730.70" width="32" height="32" rx="0" fill="#ff0000"/>
<rect x="974.10" y="753.60" width="32" height="32" rx="0" fill="#ff0000"/>
<rect x="990.80" y="758.80" width="32" height="32" rx="0" fill="#ff0000"/>
<rect x="1006.00" y="780.80" width="32" height="32" rx="0" fill="#ff0000"/>
<rect x="1019.90" y="812.80" width="32" height="32" rx="0" fill="#ff0000"/>
</g>
</g>
<text transform="translate(221.8,1562.5) scale(1,1.035)" font-size="58" text-anchor="middle" font-family="'Liberation Sans', Arial, sans-serif" fill="#000">0.1</text>
<text transform="translate(795.5,1562.5) scale(1,1.035)" font-size="58" text-anchor="middle" font-family="'Liberation Sans', Arial, sans-serif" fill="#000">1</text>
<text transform="translate(1369.2,1562.5) scale(1,1.035)" font-size="58" text-anchor="middle" font-family="'Liberation Sans', Arial, sans-serif" fill="#000">10</text>
<text transform="translate(1944.5,1562.5) scale(1,1.035)" font-size="58" text-anchor="middle" font-family="'Liberation Sans', Arial, sans-serif" fill="#000">100</text>
<text x="471" y="1653.5" font-size="100" font-family="'Liberation Sans', Arial, sans-serif" fill="#000">q, 1/nm</text>
<text transform="translate(129,1155.7) rotate(-90)" font-size="100.2" font-family="'Liberation Sans', Arial, sans-serif" fill="#000">Log intensity, a.u.</text>
<rect x="783" y="1557" width="11" height="8" fill="#fff"/>
<rect x="799.3" y="1557" width="10.700000000000045" height="8" fill="#fff"/>
<rect x="233" y="1557" width="11" height="8" fill="#fff"/>
<rect x="249.6" y="1557" width="10.400000000000006" height="8" fill="#fff"/>
<rect x="1340" y="1557" width="12" height="8" fill="#fff"/>
<rect x="1357.4" y="1557" width="9.599999999999909" height="8" fill="#fff"/>
<rect x="1899" y="1557" width="12" height="8" fill="#fff"/>
<rect x="1916.4" y="1557" width="9.599999999999909" height="8" fill="#fff"/>
<rect x="588" y="1645" width="19" height="10.5" fill="#fff"/>
<rect x="616.6" y="1645" width="18" height="10.5" fill="#fff"/>
</svg>
</body></html>
